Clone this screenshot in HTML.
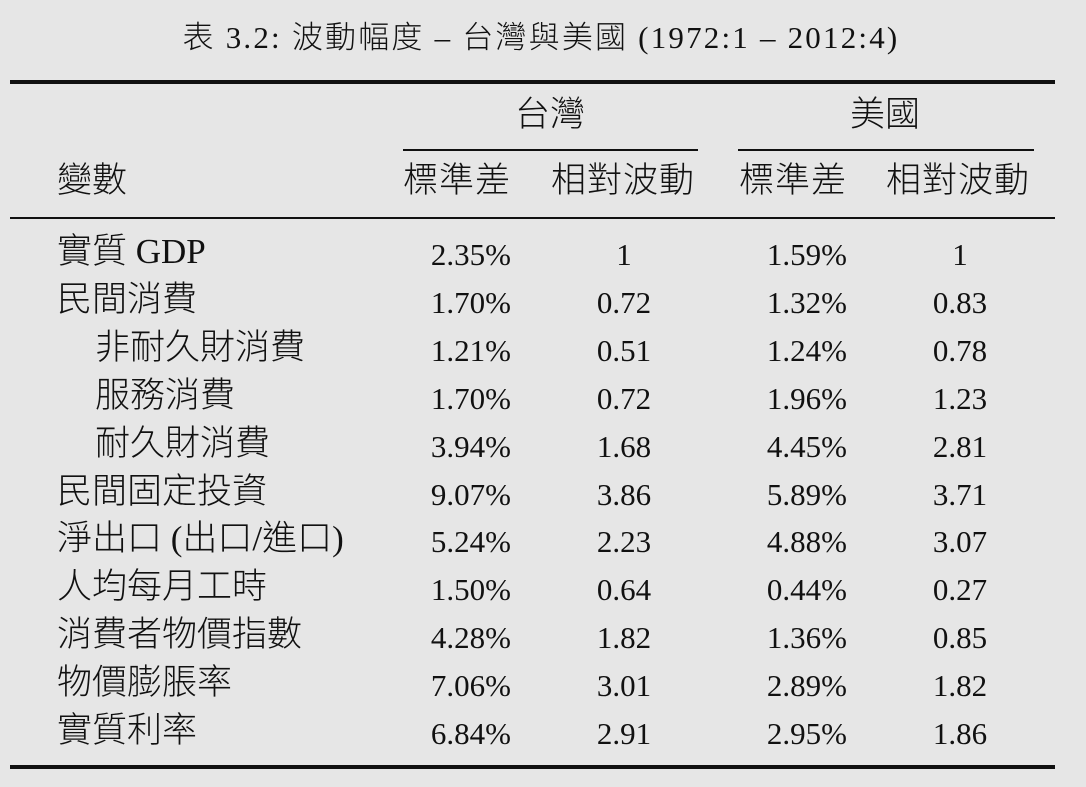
<!DOCTYPE html>
<html><head><meta charset="utf-8"><style>
body{margin:0;width:1086px;height:787px;background:#e6e6e6;overflow:hidden;position:relative;font-family:"Liberation Serif","Noto Sans CJK TC",sans-serif;color:#111}
.t{position:absolute;white-space:nowrap;line-height:1;font-size:35px;font-weight:300}
.r{position:absolute;background:#111}
.c{transform:translateX(-50%)}
.rr{transform:translateX(-100%)}
.n{font-size:31px;font-weight:400}
</style></head><body>
<div class="t c" style="left:541px;top:22px;font-size:31px;letter-spacing:2.2px">表 3.2: 波動幅度 – 台灣與美國 (1972:1 – 2012:4)</div>
<div class="r" style="left:10px;top:80px;width:1045px;height:4px"></div>
<div class="t c" style="left:550px;top:97px">台灣</div>
<div class="t c" style="left:885px;top:97px">美國</div>
<div class="r" style="left:403px;top:149px;width:295px;height:1.5px"></div>
<div class="r" style="left:738px;top:149px;width:296px;height:1.5px"></div>
<div class="t" style="left:57px;top:163px">變數</div>
<div class="t" style="left:403px;top:163px;letter-spacing:1px">標準差</div>
<div class="t" style="left:551px;top:163px;letter-spacing:1px">相對波動</div>
<div class="t" style="left:739px;top:163px;letter-spacing:1px">標準差</div>
<div class="t" style="left:886px;top:163px;letter-spacing:1px">相對波動</div>
<div class="r" style="left:10px;top:217px;width:1045px;height:1.5px"></div>
<div id="rows"></div>
<div class="r" style="left:10px;top:765px;width:1045px;height:4px"></div>
<script>
var d=[["實質 GDP",0,"2.35%","1","1.59%","1"],["民間消費",0,"1.70%","0.72","1.32%","0.83"],["非耐久財消費",1,"1.21%","0.51","1.24%","0.78"],["服務消費",1,"1.70%","0.72","1.96%","1.23"],["耐久財消費",1,"3.94%","1.68","4.45%","2.81"],["民間固定投資",0,"9.07%","3.86","5.89%","3.71"],["淨出口 (出口/進口)",0,"5.24%","2.23","4.88%","3.07"],["人均每月工時",0,"1.50%","0.64","0.44%","0.27"],["消費者物價指數",0,"4.28%","1.82","1.36%","0.85"],["物價膨脹率",0,"7.06%","3.01","2.89%","1.82"],["實質利率",0,"6.84%","2.91","2.95%","1.86"]];
var h="";d.forEach(function(r,i){var y=234+i*47.9;
h+='<div class="t" style="left:'+(r[1]?95:57)+'px;top:'+y+'px">'+r[0]+'</div>';
h+='<div class="t n rr" style="left:511px;top:'+(y+5)+'px">'+r[2]+'</div>';
h+='<div class="t n c" style="left:624px;top:'+(y+5)+'px">'+r[3]+'</div>';
h+='<div class="t n rr" style="left:847px;top:'+(y+5)+'px">'+r[4]+'</div>';
h+='<div class="t n c" style="left:960px;top:'+(y+5)+'px">'+r[5]+'</div>';});
document.getElementById("rows").innerHTML=h;
</script>
</body></html>
